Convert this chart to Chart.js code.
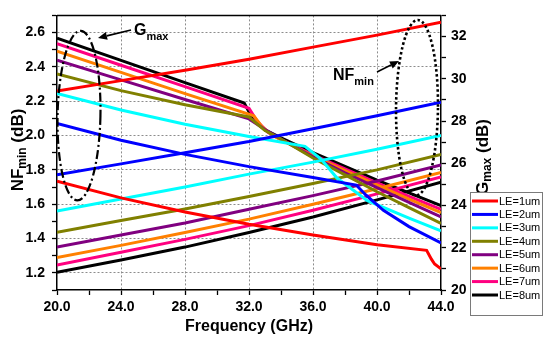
<!DOCTYPE html>
<html><head><meta charset="utf-8">
<script src="https://cdn.jsdelivr.net/npm/chart.js@4/dist/chart.umd.min.js"></script>
<style>html,body{margin:0;padding:0;background:#fff}#wrap{width:550px;height:341px;position:relative}</style>
</head><body><div id="wrap"><canvas id="c" width="550" height="341"></canvas></div>
<script>
// ---------- data ----------
const seriesNames = ['LE=1um','LE=2um','LE=3um','LE=4um','LE=5um','LE=6um','LE=7um','LE=8um'];
const seriesColors = ['#ff0000','#0000ff','#00ffff','#808000','#800080','#ff8000','#ff0080','#000000'];

// NFmin (left axis), sampled at these frequencies (GHz)
const nfFreq = [20,24,28,32,36,40,44];
const nf1 = [2.26, 2.32, 2.38, 2.445, 2.515, 2.585, 2.66];
const nf2 = [1.772, 1.835, 1.90, 1.965, 2.04, 2.115, 2.194];
const nf3 = [1.56, 1.63, 1.70, 1.775, 1.845, 1.92, 2.0];
const nf4 = [1.436, 1.505, 1.572, 1.645, 1.72, 1.80, 1.89];
const nf5 = [1.351, 1.42, 1.49, 1.57, 1.65, 1.735, 1.828];
const nf6 = [1.289, 1.36, 1.435, 1.513, 1.60, 1.69, 1.785];
const nf7 = [1.245, 1.32, 1.395, 1.475, 1.565, 1.66, 1.758];
const nf8 = [1.203, 1.275, 1.35, 1.435, 1.525, 1.625, 1.728];

// Gmax (right axis)
const gFreq1 = [20,24,28,32,36,40,43.1,43.4,43.6,44];
const gmax1  = [25.15,24.36,23.69,23.11,22.6,22.14,21.88,21.46,21.23,21.0];
const gFreq2 = [20,24,28,32,36,38.7,39.3,40.4,42,44];
const gmax2  = [27.88,27.09,26.42,25.84,25.33,24.97,24.5,23.77,23.0,22.23];
const gFreq3 = [20,24,28,32,35.5,36.5,37.5,39.4,42,44];
const gmax3  = [29.31,28.52,27.85,27.27,26.8,26.2,25.3,24.23,23.4,22.8];
const gFreq4 = [20,24,28,32,33,34,36,38,40,42,44];
const gmax4  = [30.23,29.44,28.77,28.19,27.55,27.15,26.25,25.45,24.65,23.9,23.15];
const gFreq5 = [20,24,28,32,33,34,36,38,40,42,44];
const gmax5  = [30.88,29.95,29.02,28.1,27.6,27.15,26.3,25.55,24.85,24.15,23.46];
const gFreq6 = [20,24,28,32.3,32.8,33.5,36,38,40,42,44];
const gmax6  = [31.31,30.3,29.3,28.25,27.75,27.3,26.35,25.65,24.98,24.3,23.66];
const gFreq7 = [20,24,28,32,32.5,33.2,34,36,38,40,42,44];
const gmax7  = [31.66,30.64,29.63,28.6,28.0,27.45,27.12,26.4,25.73,25.07,24.43,23.82];
const gFreq8 = [20,24,28,31.7,32.2,33,34,36,38,40,42,44];
const gmax8  = [31.92,30.87,29.82,28.85,28.15,27.58,27.2,26.5,25.85,25.2,24.6,24.0];

const nfSets = [nf1,nf2,nf3,nf4,nf5,nf6,nf7,nf8];
const gFreqSets = [gFreq1,gFreq2,gFreq3,gFreq4,gFreq5,gFreq6,gFreq7,gFreq8];
const gSets = [gmax1,gmax2,gmax3,gmax4,gmax5,gmax6,gmax7,gmax8];

// ---------- build datasets ----------
const toXY = (xs, ys) => xs.map((x,i)=>({x, y: ys[i]}));
const datasets = [];
for (let i=0;i<8;i++){
  datasets.push({label: seriesNames[i]+' NFmin', data: toXY(nfFreq, nfSets[i]), yAxisID:'y',
    borderColor: seriesColors[i], borderWidth:3, pointRadius:0, tension:0, fill:false});
  datasets.push({label: seriesNames[i]+' Gmax', data: toXY(gFreqSets[i], gSets[i]), yAxisID:'y2',
    borderColor: seriesColors[i], borderWidth:3, pointRadius:0, tension:0, fill:false});
}

const FONT = '"Liberation Sans", Arial, sans-serif';
const GRID = '#8c8c8c';

function drawSubText(ctx, x, y, parts, align){
  let total = 0;
  parts.forEach(p=>{ ctx.font = 'bold '+p.size+'px '+FONT; p.w = ctx.measureText(p.t).width; total += p.w; });
  let cx = align==='center' ? x - total/2 : x;
  parts.forEach(p=>{ ctx.font = 'bold '+p.size+'px '+FONT; ctx.fillText(p.t, cx, y + (p.dy||0)); cx += p.w; });
}

function arrow(ctx, x1, y1, x2, y2){
  const ang = Math.atan2(y2-y1, x2-x1);
  const hl = 9, hw = 4;
  const bx = x2 - hl*Math.cos(ang), by = y2 - hl*Math.sin(ang);
  ctx.save();
  ctx.strokeStyle = '#000'; ctx.fillStyle = '#000'; ctx.lineWidth = 1.6;
  ctx.beginPath(); ctx.moveTo(x1,y1); ctx.lineTo(bx,by); ctx.stroke();
  ctx.beginPath(); ctx.moveTo(x2,y2);
  ctx.lineTo(bx + hw*Math.sin(ang), by - hw*Math.cos(ang));
  ctx.lineTo(bx - hw*Math.sin(ang), by + hw*Math.cos(ang));
  ctx.closePath(); ctx.fill();
  ctx.restore();
}

const decor = {
  id: 'decor',
  afterDatasetsDraw(chart){
    const ctx = chart.ctx, a = chart.chartArea;
    const sx = chart.scales.x, sy = chart.scales.y;
    ctx.save();
    ctx.strokeStyle = '#000'; ctx.lineWidth = 1.5;
    ctx.beginPath(); ctx.moveTo(a.left, a.top); ctx.lineTo(a.right, a.top); ctx.stroke();
    // Gmax dash-dot ellipse
    ctx.lineWidth = 2.2; ctx.setLineDash([9,3,2,3]);
    const gx = sx.getPixelForValue(21.375), gy = sy.getPixelForValue(2.116);
    const grx = sx.getPixelForValue(21.375+1.34)-gx, gry = gy - sy.getPixelForValue(2.116+0.494);
    ctx.beginPath(); ctx.ellipse(gx, gy, grx, gry, 0.02, 0, Math.PI*2); ctx.stroke();
    // NFmin dotted ellipse
    ctx.lineWidth = 2.6; ctx.setLineDash([2.5,2.5]);
    const nx = sx.getPixelForValue(42.5), ny = sy.getPixelForValue(2.162);
    const nrx = sx.getPixelForValue(42.5+1.31)-nx, nry = ny - sy.getPixelForValue(2.162+0.511);
    ctx.beginPath(); ctx.ellipse(nx, ny, nrx, nry, 0.01, 0, Math.PI*2); ctx.stroke();
    ctx.setLineDash([]);
    ctx.fillStyle = '#000'; ctx.textBaseline = 'alphabetic'; ctx.textAlign = 'left';
    drawSubText(ctx, 134, 35, [{t:'G',size:16},{t:'max',size:11,dy:5}], 'left');
    arrow(ctx, 131, 30, 98, 38);
    drawSubText(ctx, 333, 80, [{t:'NF',size:16},{t:'min',size:11,dy:5}], 'left');
    arrow(ctx, 377, 72, 399, 61);
    ctx.restore();
  },
  afterDraw(chart){
    const ctx = chart.ctx, a = chart.chartArea;
    ctx.save();
    ctx.fillStyle = '#000'; ctx.textBaseline = 'middle';
    ctx.font = 'bold 16px '+FONT; ctx.textAlign = 'center';
    ctx.fillText('Frequency (GHz)', (a.left+a.right)/2, 327);
    ctx.textAlign = 'left';
    ctx.save(); ctx.translate(18, 150); ctx.rotate(-Math.PI/2);
    drawSubText(ctx, 0, 0, [{t:'NF',size:17},{t:'min',size:12,dy:5},{t:' (dB)',size:17}], 'center');
    ctx.restore();
    ctx.save(); ctx.translate(483, 157); ctx.rotate(-Math.PI/2);
    drawSubText(ctx, 0, 0, [{t:'G',size:17},{t:'max',size:12,dy:5},{t:' (dB)',size:17}], 'center');
    ctx.restore();
    // legend
    const lx = 470, ly = 192, lw = 72, lh = 123;
    ctx.strokeStyle = '#7a7a7a'; ctx.lineWidth = 1;
    ctx.fillStyle = '#fff';
    ctx.fillRect(lx, ly, lw, lh);
    ctx.strokeRect(lx+0.5, ly+0.5, lw, lh);
    ctx.font = '11px '+FONT; ctx.textBaseline = 'middle';
    for (let i=0;i<seriesNames.length;i++){
      const yy = 201 + i*13.43;
      ctx.strokeStyle = seriesColors[i]; ctx.lineWidth = 3;
      ctx.beginPath(); ctx.moveTo(472, yy); ctx.lineTo(498, yy); ctx.stroke();
      ctx.fillStyle = '#000';
      ctx.fillText(seriesNames[i], 499, yy+0.5);
    }
    ctx.restore();
  }
};

new Chart(document.getElementById('c'), {
  type: 'line',
  data: { datasets },
  options: {
    responsive: false, animation: false, devicePixelRatio: 1,
    layout: { padding: { top: 8, left: 0, right: 0, bottom: 0 } },
    plugins: { legend: { display: false }, tooltip: { enabled: false } },
    scales: {
      x: {
        type: 'linear', min: 20, max: 44,
        afterFit(s){ s.height = 51; },
        ticks: { stepSize: 2, autoSkip: false, maxRotation: 0, padding: 4,
          font: { family: FONT, size: 14, weight: 'bold' }, color: '#000',
          callback: v => (Math.round(v) % 4 === 0 ? Number(v).toFixed(1) : '') },
        grid: { color: c => (c.tick && Math.round(c.tick.value)%4===0 && c.tick.value>20 && c.tick.value<44) ? GRID : 'rgba(0,0,0,0)',
          lineWidth: 1, tickColor: '#000', tickLength: 5, tickWidth: 1.3 },
        border: { display: true, color: '#000', width: 1.5, dash: [2,2] }
      },
      y: {
        type: 'linear', position: 'left', min: 1.1, max: 2.7,
        afterFit(s){ s.width = 57; },
        ticks: { stepSize: 0.1, autoSkip: false, padding: 7,
          font: { family: FONT, size: 14, weight: 'bold' }, color: '#000',
          callback: v => { const k = Math.round(v*10); return k%2===0 ? (k/10).toFixed(1) : ''; } },
        grid: { color: c => { if(!c.tick) return 'rgba(0,0,0,0)'; const k=Math.round(c.tick.value*10); return (k%2===0) ? GRID : 'rgba(0,0,0,0)'; },
          lineWidth: 1, tickColor: '#000', tickLength: 5, tickWidth: 1.3 },
        border: { display: true, color: '#000', width: 1.5, dash: [2,2] }
      },
      y2: {
        type: 'linear', position: 'right', min: 20, max: 33,
        afterFit(s){ s.width = 109; },
        ticks: { stepSize: 1, autoSkip: false, padding: 5,
          font: { family: FONT, size: 14, weight: 'bold' }, color: '#000',
          callback: v => (Math.round(v)%2===0 ? String(Math.round(v)) : '') },
        grid: { drawOnChartArea: false, tickColor: '#000', tickLength: 5, tickWidth: 1.3 },
        border: { display: true, color: '#000', width: 1.5 }
      }
    }
  },
  plugins: [decor]
});
</script>
</body></html>
